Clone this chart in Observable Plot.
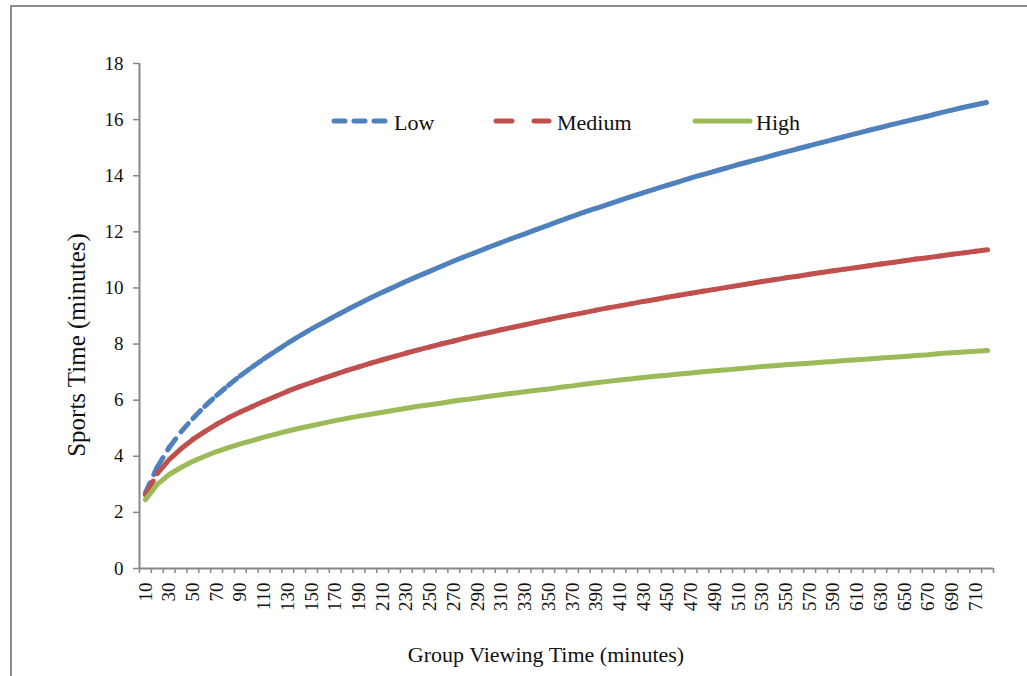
<!DOCTYPE html>
<html>
<head>
<meta charset="utf-8">
<script src="https://cdn.jsdelivr.net/npm/d3@7"></script>
<script src="https://cdn.jsdelivr.net/npm/@observablehq/plot@0.6"></script>
<style>
  html, body { margin: 0; padding: 0; background: #fff; }
  body { width: 1027px; height: 676px; overflow: hidden; position: relative; font-family: 'Liberation Serif', 'Times New Roman', serif; }
  #frame { position: absolute; left: 10px; top: 5px; width: 1100px; height: 700px; border-left: 2px solid #8c8c8c; border-top: 2px solid #8c8c8c; }
  #chart { position: absolute; left: 0; top: 0; }
  #legend { position: absolute; left: 0; top: 0; }
  #chart svg text, #legend text { font-family: 'Liberation Serif', 'Times New Roman', serif !important; }
  .title { position: absolute; white-space: nowrap; color: #111; }
</style>
</head>
<body>
<div id="frame"></div>
<div id="chart"></div>
<svg id="legend" width="1027" height="160"></svg>
<div class="title" id="xtitle" style="font-size:22px; left:546px; top:655px; transform:translate(-50%,-50%);">Group Viewing Time (minutes)</div>
<div class="title" id="ytitle" style="font-size:25px; left:77px; top:345px; transform:translate(-50%,-50%) rotate(-90deg);">Sports Time (minutes)</div>
<script>
const minutes = [10,20,30,40,50,60,70,80,90,100,110,120,130,140,150,160,170,180,190,200,
  210,220,230,240,250,260,270,280,290,300,310,320,330,340,350,360,370,380,390,400,
  410,420,430,440,450,460,470,480,490,500,510,520,530,540,550,560,570,580,590,600,
  610,620,630,640,650,660,670,680,690,700,710,720];

const low = [2.70,3.62,4.31,4.87,5.35,5.78,6.17,6.53,6.87,7.18,
  7.48,7.76,8.03,8.29,8.54,8.77,9.00,9.22,9.44,9.65,
  9.85,10.04,10.24,10.42,10.60,10.78,10.96,11.13,11.29,11.46,
  11.62,11.78,11.93,12.09,12.24,12.40,12.55,12.70,12.84,12.98,
  13.12,13.26,13.40,13.53,13.66,13.79,13.92,14.04,14.16,14.28,
  14.40,14.51,14.62,14.74,14.85,14.96,15.07,15.18,15.29,15.40,
  15.51,15.62,15.72,15.83,15.93,16.03,16.13,16.24,16.34,16.44,16.53,16.62];

const medium = [2.62,3.38,3.88,4.27,4.60,4.88,5.14,5.37,5.58,5.77,
  5.96,6.14,6.32,6.48,6.63,6.78,6.92,7.06,7.19,7.32,
  7.44,7.56,7.68,7.79,7.90,8.01,8.11,8.22,8.32,8.41,
  8.51,8.60,8.69,8.78,8.87,8.96,9.04,9.12,9.21,9.29,
  9.36,9.44,9.52,9.59,9.67,9.74,9.81,9.88,9.95,10.02,
  10.09,10.16,10.23,10.29,10.36,10.42,10.49,10.55,10.61,10.67,
  10.73,10.79,10.85,10.91,10.97,11.03,11.08,11.14,11.20,11.25,11.31,11.36];

const high = [2.45,3.00,3.35,3.60,3.82,4.00,4.17,4.31,4.44,4.56,
  4.68,4.79,4.90,5.00,5.09,5.18,5.27,5.35,5.43,5.50,
  5.57,5.64,5.71,5.78,5.84,5.90,5.97,6.02,6.08,6.14,
  6.19,6.25,6.30,6.35,6.40,6.46,6.51,6.57,6.62,6.67,
  6.72,6.76,6.81,6.85,6.89,6.93,6.97,7.01,7.05,7.08,
  7.12,7.16,7.20,7.23,7.26,7.29,7.32,7.35,7.38,7.41,
  7.44,7.47,7.50,7.53,7.56,7.59,7.62,7.66,7.69,7.72,7.74,7.77];

const seriesNames = ["Low", "Medium", "High"];
const seriesColors = ["#4F81BD", "#C0504D", "#9BBB59"];
const seriesDash = ["11,9", "16,22", null];

const xTickLabels = [10,30,50,70,90,110,130,150,170,190,210,230,250,270,290,310,330,350,
  370,390,410,430,450,470,490,510,530,550,570,590,610,630,650,670,690,710];
const yTicks = [0,2,4,6,8,10,12,14,16,18];

// category boundaries (Excel category axis ticks sit between categories)
const bounds = minutes.map(m => m - 5).concat([minutes[minutes.length - 1] + 5]);

function segments(vals) {
  const out = [];
  for (let i = 0; i < vals.length - 1; i++) {
    out.push({x1: minutes[i], x2: minutes[i + 1], y1: vals[i], y2: vals[i + 1]});
  }
  return out;
}
const highRows = minutes.map((m, i) => ({x: m, y: high[i]}));
const axisGray = "#878787";
const lineW = 5;
const serif = "'Liberation Serif', 'Times New Roman', serif";

const chart = Plot.plot({
  width: 1027,
  height: 676,
  marginLeft: 139,
  marginRight: 34,
  marginTop: 63,
  marginBottom: 108,
  x: {type: "linear", domain: [bounds[0], bounds[bounds.length - 1]]},
  y: {domain: [0, 18]},
  style: {fontFamily: serif, fontSize: "19px", color: "#111", background: "transparent", overflow: "visible"},
  marks: [
    Plot.axisY({ticks: yTicks, tickSize: 6, tickPadding: 10, stroke: axisGray, strokeWidth: 1.5, strokeOpacity: 1, label: null, tickFormat: d => String(d)}),
    Plot.axisX({ticks: bounds, tickSize: 5, tickPadding: 0, stroke: axisGray, strokeWidth: 1.5, strokeOpacity: 1, label: null, tickFormat: () => ""}),
    Plot.axisX({ticks: xTickLabels, tickSize: 0, tickPadding: 14, tickRotate: -90, label: null, tickFormat: d => String(d)}),
    Plot.ruleX([bounds[0]], {stroke: axisGray, strokeWidth: 2}),
    Plot.ruleY([0], {stroke: axisGray, strokeWidth: 2}),
    Plot.link(segments(low), {x1: "x1", y1: "y1", x2: "x2", y2: "y2", stroke: seriesColors[0], strokeWidth: lineW, strokeDasharray: seriesDash[0], strokeLinecap: "round"}),
    Plot.link(segments(medium), {x1: "x1", y1: "y1", x2: "x2", y2: "y2", stroke: seriesColors[1], strokeWidth: lineW, strokeDasharray: seriesDash[1], strokeLinecap: "round"}),
    Plot.line(highRows, {x: "x", y: "y", stroke: seriesColors[2], strokeWidth: lineW, strokeLinecap: "round", strokeLinejoin: "round"})
  ]
});
document.getElementById("chart").appendChild(chart);

// Legend
const legendSvg = d3.select("#legend");
const legendItems = [
  {lx1: 334, lx2: 386, tx: 394},
  {lx1: 496, lx2: 549, tx: 557},
  {lx1: 695, lx2: 750, tx: 756}
];
seriesNames.forEach((name, i) => {
  const it = legendItems[i];
  const ln = legendSvg.append("line")
    .attr("x1", it.lx1).attr("x2", it.lx2).attr("y1", 121).attr("y2", 121)
    .attr("stroke", seriesColors[i]).attr("stroke-width", lineW).attr("stroke-linecap", "round");
  if (seriesDash[i]) ln.attr("stroke-dasharray", seriesDash[i]);
  legendSvg.append("text")
    .attr("x", it.tx).attr("y", 130)
    .style("font-family", serif)
    .attr("font-size", 22).attr("fill", "#111")
    .text(name);
});
</script>
</body>
</html>
